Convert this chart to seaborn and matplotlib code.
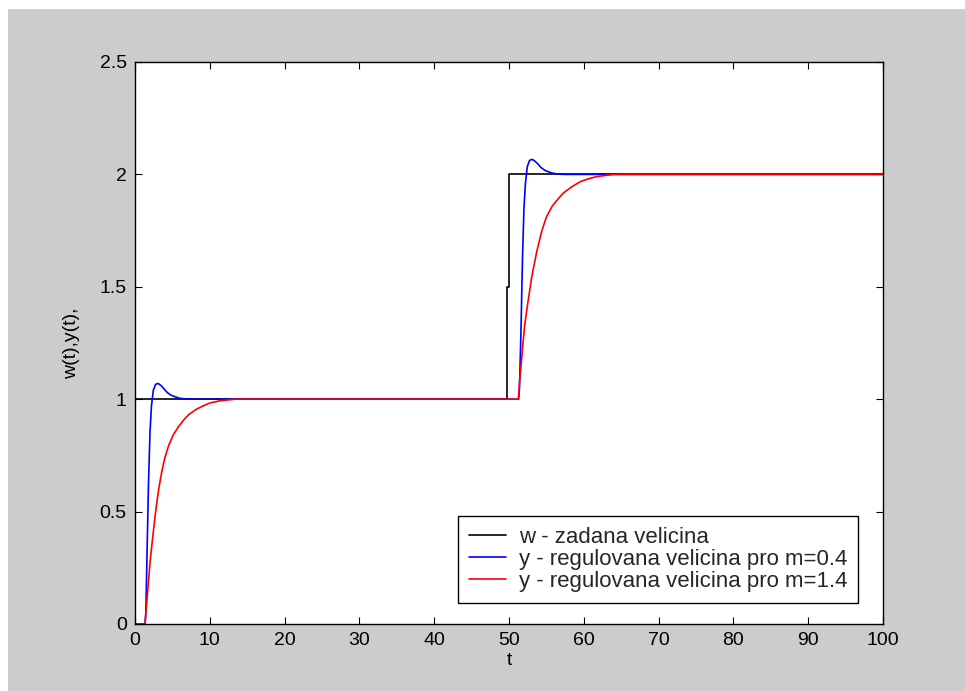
import numpy as np
import pandas as pd
import matplotlib
matplotlib.use('Agg')
import matplotlib.pyplot as plt
from matplotlib.patches import Rectangle
import seaborn as sns

# setpoint w(t)
t_w = [0, 0, 49.8, 49.8, 50.05, 50.05, 100]
w = [0, 1, 1, 1.5, 1.5, 2, 2]

# output y(t) for m=0.4
t_y1 = [0, 1.34, 1.45, 1.6, 1.8, 2.0, 2.2, 2.45, 2.75, 3.1, 3.5, 3.9, 4.3, 4.8, 5.4, 6.0, 6.8, 7.5,
        51.3, 51.4, 51.6, 51.8, 52.0, 52.2, 52.45, 52.75, 53.1, 53.5, 53.9, 54.3, 54.8, 55.4, 56.0,
        56.8, 57.5, 100]
y1 = [0, 0, 0.05, 0.3, 0.62, 0.85, 0.97, 1.04, 1.066, 1.07, 1.06, 1.045, 1.03, 1.018, 1.01, 1.004,
      1.001, 1.0,
      1.0, 1.05, 1.3, 1.62, 1.85, 1.96, 2.035, 2.062, 2.067, 2.058, 2.045, 2.03, 2.018, 2.01, 2.004,
      2.001, 2.0, 2.0]

# output y(t) for m=1.4
t_y2 = [0, 1.34, 1.56, 1.78, 2.0, 2.23, 2.45, 2.67, 2.9, 3.12, 3.34, 3.57, 3.79, 4.0, 4.46, 5.1,
        5.8, 6.5, 7.2, 8.2, 9.1, 10.0, 11.4, 13.4,
        51.25, 51.45, 51.7, 51.9, 52.1, 52.35, 52.57, 52.8, 53.0, 53.25, 53.5, 53.7, 54.1, 54.4,
        55.0, 55.8, 56.8, 57.3, 58.4, 59.5, 60.6, 61.7, 64.0, 100]
y2 = [0, 0, 0.093, 0.18, 0.27, 0.344, 0.41, 0.475, 0.535, 0.589, 0.633, 0.675, 0.71, 0.74, 0.79,
      0.84, 0.877, 0.907, 0.932, 0.955, 0.97, 0.983, 0.993, 1.0,
      1.0, 1.09, 1.18, 1.26, 1.33, 1.39, 1.44, 1.49, 1.535, 1.58, 1.62, 1.655, 1.71, 1.75,
      1.81, 1.86, 1.90, 1.918, 1.945, 1.967, 1.98, 1.99, 2.0, 2.0]

labels = ['w - zadana velicina',
          'y - regulovana velicina pro m=0.4',
          'y - regulovana velicina pro m=1.4']

sns.set_theme(style='white')
plt.rcParams['font.family'] = ['Liberation Sans', 'DejaVu Sans']

fig = plt.figure(figsize=(9.65, 6.91), dpi=100, facecolor='white')
# gray MATLAB-style figure background with thin white margin top/left
fig.patches.append(Rectangle((8 / 965, 0), 1, 1 - 9 / 691, transform=fig.transFigure,
                             facecolor='#cccccc', edgecolor='none', zorder=-10))
ax = fig.add_axes([0.1399, 0.097, 0.7751, 0.8133])
ax.set_facecolor('white')

sns.lineplot(x=t_w, y=w, estimator=None, sort=False, color='black', linewidth=1.2,
             label=labels[0], ax=ax)
sns.lineplot(x=t_y1, y=y1, estimator=None, sort=False, color='blue', linewidth=1.2,
             label=labels[1], ax=ax)
sns.lineplot(x=t_y2, y=y2, estimator=None, sort=False, color='red', linewidth=1.2,
             label=labels[2], ax=ax)

ax.set_xlim(0, 100)
ax.set_ylim(0, 2.5)
ax.set_xticks(np.arange(0, 101, 10))
ax.set_yticks([0, 0.5, 1, 1.5, 2, 2.5])
ax.set_yticklabels(['0', '0.5', '1', '1.5', '2', '2.5'])
ax.tick_params(direction='in', length=5, width=0.8, colors='black', labelsize=14,
               top=True, right=True, bottom=True, left=True, pad=6)
for s in ax.spines.values():
    s.set_color('black')
    s.set_linewidth(1.0)

ax.set_xlabel('t', fontsize=14, color='black', labelpad=2)
ax.set_ylabel('w(t),y(t),', fontsize=14, color='black', labelpad=14)

leg = ax.legend(loc='lower right', bbox_to_anchor=(0.967, 0.037), fontsize=16, frameon=True,
                fancybox=False, framealpha=1, edgecolor='black', handlelength=1.7,
                borderpad=0.5, labelspacing=0.05, handletextpad=0.55, borderaxespad=0)
leg.get_frame().set_linewidth(1.0)

fig.savefig('out.png', dpi=100, facecolor=fig.get_facecolor())
